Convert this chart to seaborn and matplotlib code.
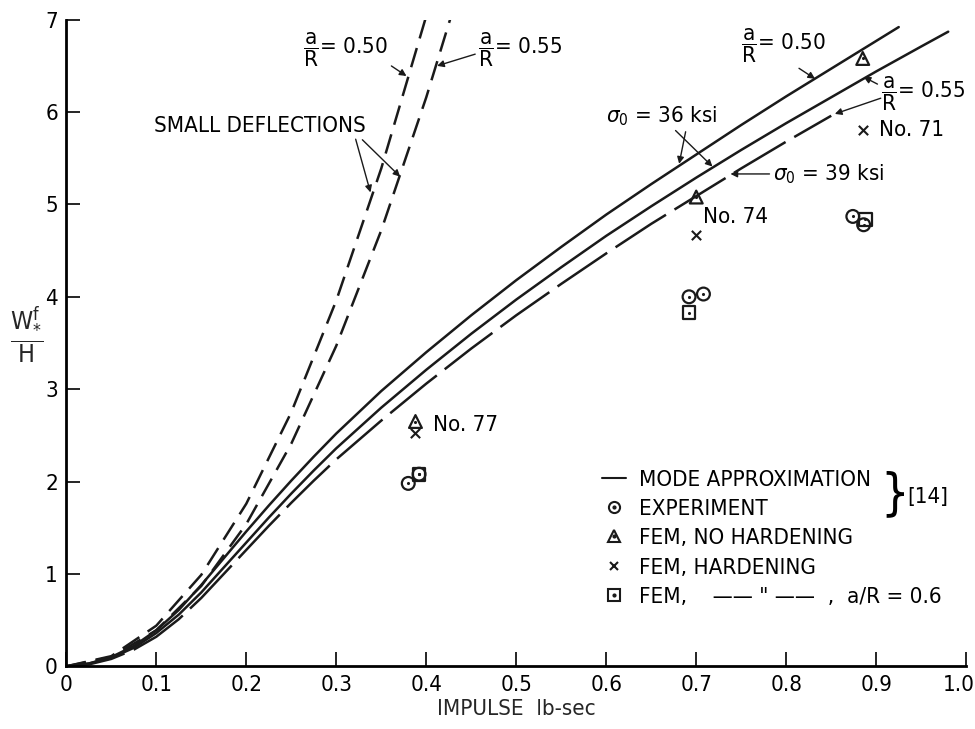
"""Plate deflection vs impulse: mode approximation, small deflections, FEM and experiment."""

import matplotlib
matplotlib.use("Agg")
import matplotlib.pyplot as plt
from matplotlib.lines import Line2D
from matplotlib.transforms import ScaledTranslation
import seaborn as sns

# ---- data ----
# small-deflection theory (dashed)
sd50_x = [0, 0.05, 0.1, 0.15, 0.2, 0.25, 0.3, 0.35, 0.4]
sd50_y = [0, 0.11, 0.44, 0.99, 1.76, 2.75, 3.96, 5.39, 7.04]
sd55_x = [0, 0.05, 0.1, 0.15, 0.2, 0.25, 0.3, 0.35, 0.4, 0.427]
sd55_y = [0, 0.10, 0.39, 0.87, 1.54, 2.41, 3.47, 4.72, 6.16, 7.02]

# mode approximation, sigma0 = 36 ksi (solid)
m50_x = [0, 0.025, 0.05, 0.075, 0.1, 0.125, 0.15, 0.175, 0.2, 0.225, 0.25, 0.275, 0.3,
         0.35, 0.4, 0.45, 0.5, 0.55, 0.6, 0.65, 0.7, 0.75, 0.8, 0.85, 0.9, 0.925]
m50_y = [0, 0.03, 0.10, 0.22, 0.39, 0.61, 0.88, 1.17, 1.46, 1.74, 2.01, 2.27, 2.52,
         2.98, 3.40, 3.80, 4.18, 4.54, 4.89, 5.22, 5.54, 5.86, 6.17, 6.47, 6.77, 6.92]
m55_x = [0, 0.025, 0.05, 0.075, 0.1, 0.125, 0.15, 0.175, 0.2, 0.225, 0.25, 0.275, 0.3,
         0.35, 0.4, 0.45, 0.5, 0.55, 0.6, 0.65, 0.7, 0.75, 0.8, 0.85, 0.9, 0.95, 0.98]
m55_y = [0, 0.03, 0.09, 0.20, 0.36, 0.56, 0.80, 1.07, 1.34, 1.61, 1.87, 2.12, 2.36,
         2.80, 3.21, 3.60, 3.97, 4.32, 4.66, 4.98, 5.29, 5.59, 5.88, 6.16, 6.44, 6.71, 6.87]
# mode approximation, sigma0 = 39 ksi, a/R = 0.55 (long dash)
m39_x = [0, 0.025, 0.05, 0.075, 0.1, 0.125, 0.15, 0.175, 0.2, 0.225, 0.25, 0.275, 0.3,
         0.35, 0.4, 0.45, 0.5, 0.55, 0.6, 0.65, 0.7, 0.75, 0.8, 0.85]
m39_y = [0, 0.02, 0.08, 0.18, 0.32, 0.51, 0.74, 1.00, 1.26, 1.52, 1.77, 2.01, 2.24,
         2.66, 3.06, 3.44, 3.80, 4.14, 4.47, 4.79, 5.09, 5.39, 5.68, 5.96]

# experiment / FEM points (No. 77, 74, 71)
exp_x = [0.380, 0.392, 0.692, 0.708, 0.874, 0.886]
exp_y = [1.98, 2.08, 4.00, 4.03, 4.87, 4.78]
fem_nohard_x = [0.388, 0.700, 0.885]
fem_nohard_y = [2.65, 5.08, 6.58]
fem_hard_x = [0.388, 0.700, 0.885]
fem_hard_y = [2.53, 4.67, 5.81]
fem_06_x = [0.392, 0.692, 0.888]
fem_06_y = [2.08, 3.83, 4.84]

x_ticks = [0, 0.1, 0.2, 0.3, 0.4, 0.5, 0.6, 0.7, 0.8, 0.9, 1.0]
x_ticklabels = ["0", "0.1", "0.2", "0.3", "0.4", "0.5", "0.6", "0.7", "0.8", "0.9", "1.0"]
y_ticks = [0, 1, 2, 3, 4, 5, 6, 7]

sns.set_theme(style="ticks")
plt.rcParams.update({
    "font.family": ["DejaVu Sans"],
    "font.stretch": "condensed",
    "mathtext.fontset": "dejavusans",
    "text.color": "black",
    "axes.edgecolor": "black",
    "xtick.color": "black",
    "ytick.color": "black",
})

FS = 16
fig = plt.figure(figsize=(9.75, 7.29), dpi=100)
ax = fig.add_axes([0.068, 0.086, 0.923, 0.887])

LW = 1.8
sns.lineplot(x=sd50_x, y=sd50_y, ax=ax, color="k", lw=LW, linestyle=(0, (8, 4)), sort=False)
sns.lineplot(x=sd55_x, y=sd55_y, ax=ax, color="k", lw=LW, linestyle=(0, (8, 4)), sort=False)
sns.lineplot(x=m50_x, y=m50_y, ax=ax, color="k", lw=LW, sort=False)
sns.lineplot(x=m55_x, y=m55_y, ax=ax, color="k", lw=LW, sort=False)
sns.lineplot(x=m39_x, y=m39_y, ax=ax, color="k", lw=LW, linestyle=(0, (24, 4)), sort=False)

mk = dict(facecolors="none", edgecolor="k", linewidth=1.6, s=85, zorder=5)
dot = dict(color="k", s=5, zorder=6, linewidth=0)
sns.scatterplot(x=exp_x, y=exp_y, ax=ax, marker="o", **mk)
sns.scatterplot(x=fem_nohard_x, y=fem_nohard_y, ax=ax, marker="^", **mk)
sns.scatterplot(x=fem_06_x, y=fem_06_y, ax=ax, marker="s", **mk)
for xs, ys in [(exp_x, exp_y), (fem_nohard_x, fem_nohard_y), (fem_06_x, fem_06_y)]:
    sns.scatterplot(x=xs, y=ys, ax=ax, **dot)
sns.scatterplot(x=fem_hard_x, y=fem_hard_y, ax=ax, marker="x", color="k", s=45,
                linewidth=1.5, zorder=5)

# ---- annotations ----
arr = dict(arrowstyle="-|>", color="k", lw=1.0, mutation_scale=10, shrinkA=0, shrinkB=0)
frac = r"$\dfrac{\mathrm{a}}{\mathrm{R}}$"
ax.annotate(frac + "= 0.50", xy=(0.378, 6.39), xytext=(0.263, 6.68), fontsize=FS,
            va="center", arrowprops=dict(arr, relpos=(0.95, 0.2)))
ax.annotate(frac + "= 0.55", xy=(0.412, 6.50), xytext=(0.458, 6.68), fontsize=FS,
            va="center", arrowprops=dict(arr, relpos=(0.0, 0.4)))
ax.annotate("SMALL DEFLECTIONS", xy=(0.338, 5.13), xytext=(0.097, 5.85), fontsize=FS,
            va="center", arrowprops=dict(arr, relpos=(0.95, 0.0)))
ax.annotate("", xy=(0.371, 5.30), xytext=(0.329, 5.70), arrowprops=arr)
ax.annotate(frac + "= 0.50", xy=(0.832, 6.36), xytext=(0.750, 6.72), fontsize=FS,
            va="center", arrowprops=dict(arr, relpos=(0.55, 0.1)))
ax.annotate(frac + "= 0.55", xy=(0.886, 6.38), xytext=(0.905, 6.20), fontsize=FS,
            va="center", arrowprops=dict(arr, relpos=(0.0, 0.7)))
ax.annotate("", xy=(0.854, 5.98), xytext=(0.905, 6.15), arrowprops=arr)
ax.annotate(r"$\sigma_0$ = 36 ksi", xy=(0.681, 5.44), xytext=(0.60, 5.95), fontsize=FS,
            va="center", arrowprops=dict(arr, relpos=(0.72, 0.0)))
ax.annotate("", xy=(0.718, 5.41), xytext=(0.677, 5.80), arrowprops=arr)
ax.annotate(r"$\sigma_0$ = 39 ksi", xy=(0.738, 5.33), xytext=(0.785, 5.33), fontsize=FS,
            va="center", arrowprops=dict(arr, relpos=(0.0, 0.5)))
ax.text(0.903, 5.81, "No. 71", fontsize=FS, va="center")
ax.text(0.708, 4.86, "No. 74", fontsize=FS, va="center")
ax.text(0.408, 2.61, "No. 77", fontsize=FS, va="center")

# ---- legend ----
open_mk = dict(ls="none", mfc="none", mec="k", mew=1.5, ms=8)
cdot = Line2D([], [], ls="none", marker="o", color="k", ms=2)
handles = [
    Line2D([], [], color="k", lw=1.5),
    (Line2D([], [], marker="o", **open_mk), cdot),
    (Line2D([], [], marker="^", **open_mk), cdot),
    Line2D([], [], marker="x", ls="none", color="k", mew=1.5, ms=6),
    (Line2D([], [], marker="s", **open_mk), cdot),
]
labels = ["MODE APPROXIMATION", "EXPERIMENT", "FEM, NO HARDENING", "FEM, HARDENING",
          'FEM,    —— " ——  ,  a/R = 0.6']
ax.legend(handles, labels, loc="upper left", bbox_to_anchor=(0.585, 0.318), frameon=False,
          fontsize=FS, handlelength=1.1, handletextpad=0.6, labelspacing=0.42,
          borderaxespad=0)
ax.text(0.905, 1.86, "}", fontsize=36, va="center", ha="left")
ax.text(0.934, 1.83, "[14]", fontsize=FS, va="center")

# ---- axes ----
ax.set_xlim(0, 1.0)
ax.set_ylim(0, 7)
ax.set_xticks(x_ticks)
ax.set_xticklabels(x_ticklabels, fontsize=FS)
ax.set_yticks(y_ticks)
ax.tick_params(axis="y", labelsize=FS)
ax.tick_params(direction="in", length=10, width=1.2, pad=6)
last = ax.get_xticklabels()[-1]
last.set_transform(last.get_transform() + ScaledTranslation(-5 / 72, 0, fig.dpi_scale_trans))
ax.set_xlabel("IMPULSE  lb-sec", fontsize=FS, labelpad=3)
ax.set_ylabel(r"$\dfrac{\mathrm{W}_{*}^{\mathrm{f}}}{\mathrm{H}}$", fontsize=FS + 2,
              rotation=0, ha="center", va="center")
ax.yaxis.set_label_coords(-0.044, 0.512)
sns.despine(ax=ax)
for s in ("left", "bottom"):
    ax.spines[s].set_linewidth(2)

fig.savefig("out.png", dpi=100, facecolor="white")
